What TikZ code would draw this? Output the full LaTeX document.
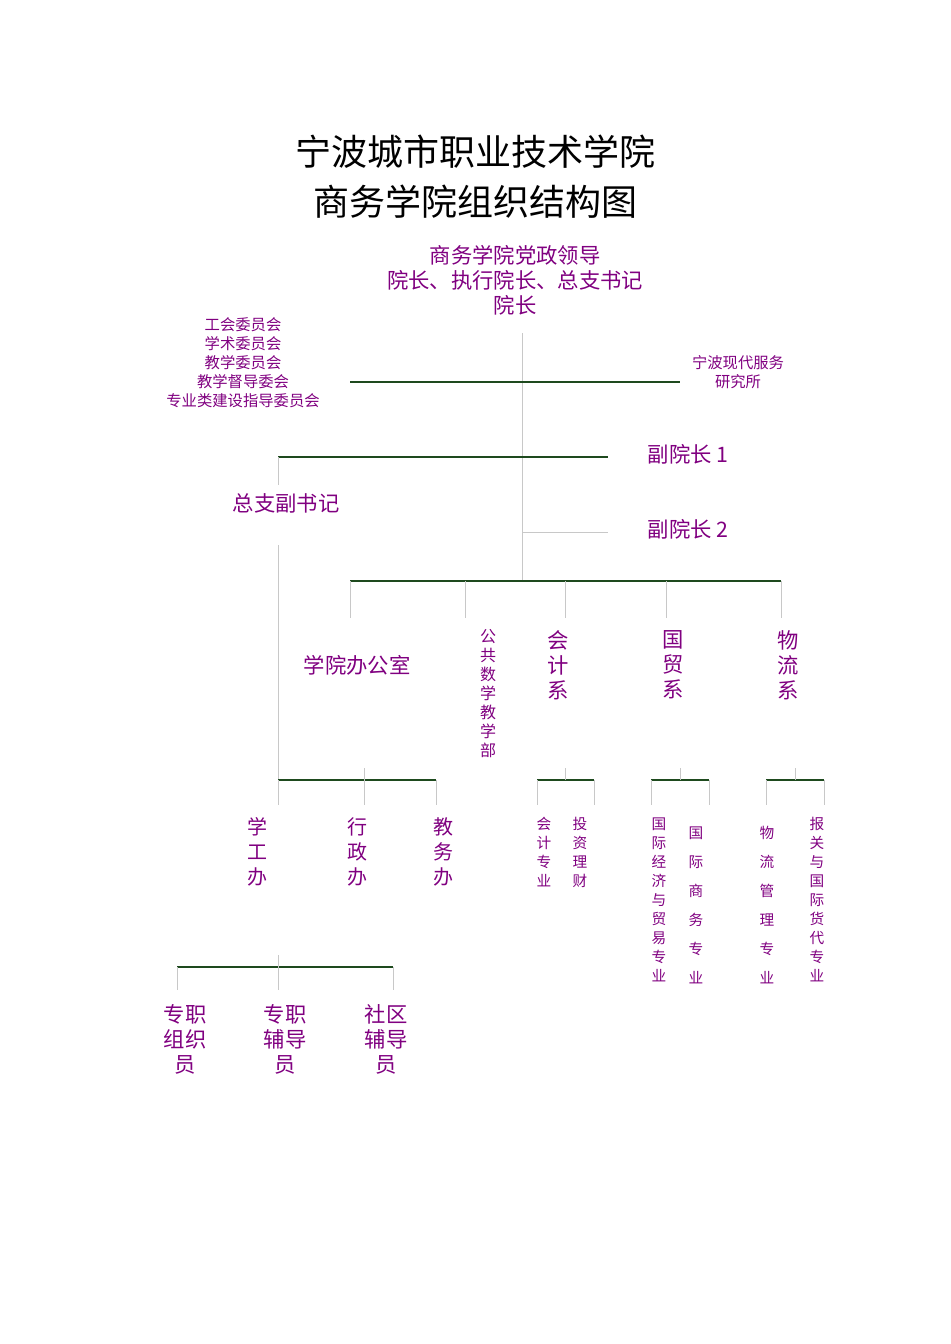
\documentclass[tikz,border=0pt]{standalone}
\usepackage{fontspec}
\newfontfamily\cjk{Noto Sans CJK SC}
\definecolor{pur}{HTML}{800080}
\definecolor{grn}{HTML}{1E4A1E}
\definecolor{gry}{HTML}{C8C8C8}
\begin{document}
\begin{tikzpicture}[x=0.75pt,y=-0.75pt,
  g/.style={grn,line width=1.5pt},
  l/.style={gry,line width=0.75pt},
  t/.style={pur,inner sep=0pt,align=center},
  big/.style={t,font=\cjk\fontsize{16}{18.75}\selectfont},
  mid/.style={t,font=\cjk\fontsize{15}{18.75}\selectfont},
  sm/.style={t,font=\cjk\fontsize{11.5}{14.25}\selectfont},
  vs/.style={t,font=\cjk\fontsize{11}{14.25}\selectfont},
  vw/.style={t,font=\cjk\fontsize{11}{21.75}\selectfont}]
\useasboundingbox (0,0) rectangle (950,1344);
\node[font=\cjk\fontsize{27}{37.5}\selectfont,align=center] (title) at (475,177) {宁波城市职业技术学院\\商务学院组织结构图};
\node[big] (top) at (515,280) {商务学院党政领导\\院长、执行院长、总支书记\\院长};
\node[sm] (com) at (243,363) {工会委员会\\学术委员会\\教学委员会\\教学督导委会\\专业类建设指导委员会};
\node[sm] (res) at (738,372) {宁波现代服务\\研究所};
\node[big] (v1) at (688,454) {副院长 1};
\node[big] (v2) at (688,529) {副院长 2};
\node[big] (sec) at (286,503) {总支副书记};
% main trunk
\draw[l] (522,333) -- (522,581);
\draw[g] (350,382) -- (680,382);
\draw[g] (278,457) -- (608,457);
\draw[l] (522,532) -- (608,532);
\draw[l] (278,457) -- (278,485);
\draw[l] (278,545) -- (278,780);
\draw[g] (350,581) -- (781,581);
\foreach \x in {350,465,565,666,781} \draw[l] (\x,581) -- (\x,618);
\node[big] (off) at (357,665) {学院办公室};
\node[big,text width=1.7em] (offb) at (357,665) {};
\node[vs,font=\cjk\fontsize{12}{14.25}\selectfont] (math) at (488,694) {公\\共\\数\\学\\教\\学\\部};
\node[big] (acc) at (558,665) {会\\计\\系};
\node[big] (trade) at (673,665) {国\\贸\\系};
\node[big] (log) at (788,665) {物\\流\\系};
% admin branch
\draw[g] (278,780) -- (436,780);
\draw[l] (364,768) -- (364,805);
\draw[l] (278,780) -- (278,805);
\draw[l] (436,780) -- (436,805);
\node[mid] (xg) at (257,852) {学\\工\\办};
\node[mid] (xz) at (357,852) {行\\政\\办};
\node[mid] (jw) at (443,852) {教\\务\\办};
% accounting
\draw[g] (537,780) -- (594,780);
\draw[l] (565,768) -- (565,780);
\foreach \x in {537,594} \draw[l] (\x,780) -- (\x,805);
\node[vs] (a1) at (544,852) {会\\计\\专\\业};
\node[vs] (a2) at (580,852) {投\\资\\理\\财};
% trade
\draw[g] (651,780) -- (709,780);
\draw[l] (680,768) -- (680,780);
\foreach \x in {651,709} \draw[l] (\x,780) -- (\x,805);
\node[vs] (t1) at (659,900) {国\\际\\经\\济\\与\\贸\\易\\专\\业};
\node[vw] (t2) at (696,905) {国\\际\\商\\务\\专\\业};
% logistics
\draw[g] (766,780) -- (824,780);
\draw[l] (795,768) -- (795,780);
\foreach \x in {766,824} \draw[l] (\x,780) -- (\x,805);
\node[vw] (l1) at (767,905) {物\\流\\管\\理\\专\\业};
\node[vs] (l2) at (817,900) {报\\关\\与\\国\\际\\货\\代\\专\\业};
% bottom
\draw[g] (177,967) -- (393,967);
\draw[l] (278,955) -- (278,990);
\foreach \x in {177,393} \draw[l] (\x,967) -- (\x,990);
\node[big] (b1) at (185,1039) {专职\\组织\\员};
\node[big] (b2) at (285,1039) {专职\\辅导\\员};
\node[big] (b3) at (386,1039) {社区\\辅导\\员};
\end{tikzpicture}
\end{document}
